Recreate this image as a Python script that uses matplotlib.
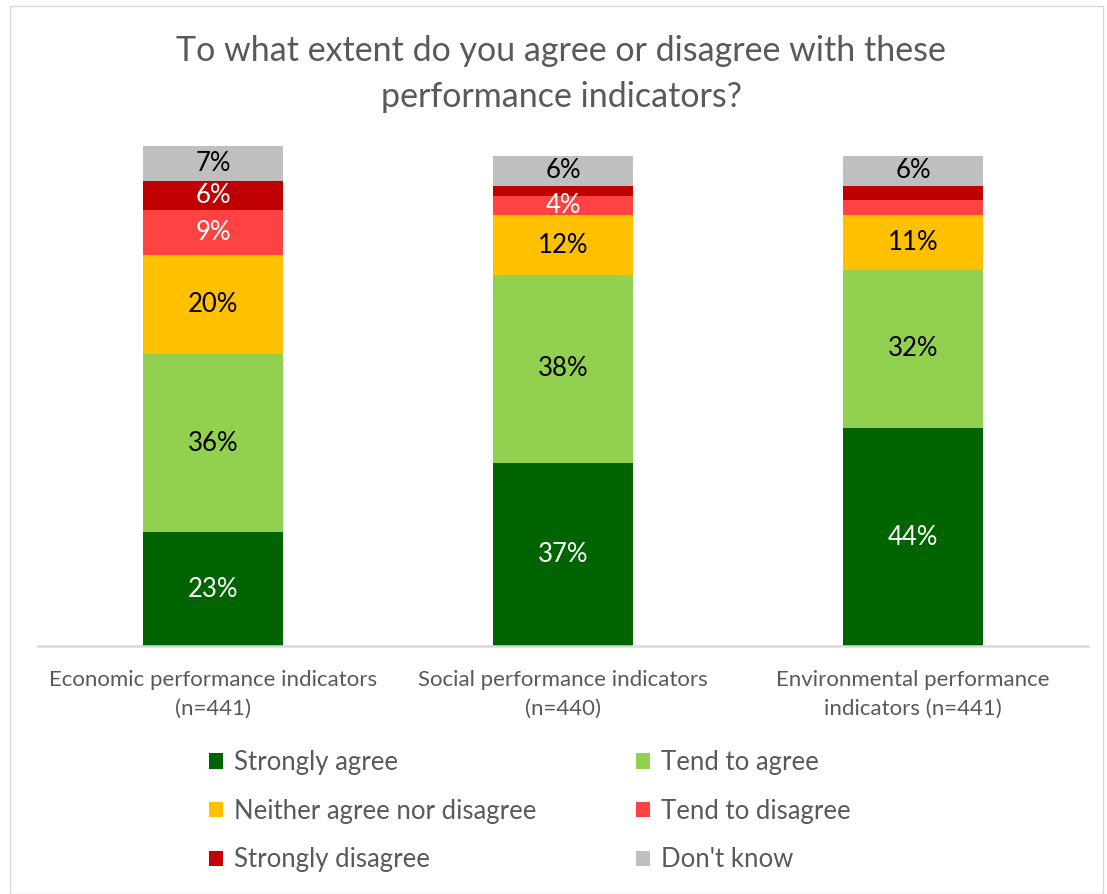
import matplotlib.pyplot as plt
from matplotlib.patches import Patch, Rectangle
import numpy as np

plt.rcParams["font.family"] = ["Lato", "DejaVu Sans"]

categories = [
    "Economic performance indicators\n(n=441)",
    "Social performance indicators\n(n=440)",
    "Environmental performance\nindicators (n=441)",
]
responses = [
    "Strongly agree",
    "Tend to agree",
    "Neither agree nor disagree",
    "Tend to disagree",
    "Strongly disagree",
    "Don't know",
]
strongly_agree = [23, 37, 44]
tend_agree = [36, 38, 32]
neither = [20, 12, 11]
tend_disagree = [9, 4, 3]
strongly_disagree = [6, 2, 3]
dont_know = [7, 6, 6]

# which segments get a printed value (small slivers stay unlabeled)
show_label = [
    [True, True, True],
    [True, True, True],
    [True, True, True],
    [True, True, False],
    [True, False, False],
    [True, True, True],
]

colors = ["#006400", "#92D050", "#FFC000", "#FF4343", "#C00000", "#BFBFBF"]
text_colors = ["white", "black", "black", "white", "white", "black"]
gray = "#595959"

W, H = 1107, 894
fig = plt.figure(figsize=(W / 100, H / 100), dpi=100)
fig.patches.append(Rectangle((10 / W, 0), (W - 14) / W, (H - 6) / H,
                             transform=fig.transFigure, fill=False,
                             edgecolor="#D9D9D9", linewidth=1))

ax = fig.add_axes([38 / W, (H - 646) / H, 1050 / W, (646 - 151) / H])
x = np.arange(len(categories))
series = [strongly_agree, tend_agree, neither, tend_disagree,
          strongly_disagree, dont_know]

bottom = np.zeros(len(categories))
for vals, name, col, tcol, flags in zip(series, responses, colors,
                                        text_colors, show_label):
    vals = np.array(vals, dtype=float)
    ax.bar(x, vals, 0.4, bottom=bottom, color=col, label=name, clip_on=False)
    for xi, v, b, f in zip(x, vals, bottom, flags):
        if f:
            ax.text(xi, b + v / 2, f"{int(v)}%", ha="center", va="center",
                    color=tcol, fontsize=18.5)
    bottom += vals

ax.set_xlim(-0.5, 2.5)
ax.set_ylim(0, 100)
ax.set_yticks([])
ax.set_xticks(x)
ax.set_xticklabels(categories, fontsize=16, color=gray, linespacing=1.55)
ax.tick_params(axis="x", length=0, pad=17)
for side in ["top", "right", "left"]:
    ax.spines[side].set_visible(False)
ax.spines["bottom"].set_color("#D9D9D9")
ax.spines["bottom"].set_linewidth(1.8)

fig.text(0.507, (H - 74) / H,
         "To what extent do you agree or disagree with these\nperformance indicators?",
         ha="center", va="center", fontsize=24.5, color=gray, linespacing=1.55)

# legend reads row by row: reorder for matplotlib's column-major fill
handles = [Patch(facecolor=c, label=r) for c, r in zip(colors, responses)]
order = [0, 2, 4, 1, 3, 5]
fig.legend([handles[i] for i in order], [responses[i] for i in order],
           ncol=2, loc="upper left", bbox_to_anchor=(186 / W, (H - 727) / H),
           frameon=False, fontsize=18.5, labelcolor=gray,
           handlelength=0.55, handleheight=0.55, handletextpad=0.4,
           labelspacing=0.92, columnspacing=3.9)

fig.savefig("out.png", dpi=100)
